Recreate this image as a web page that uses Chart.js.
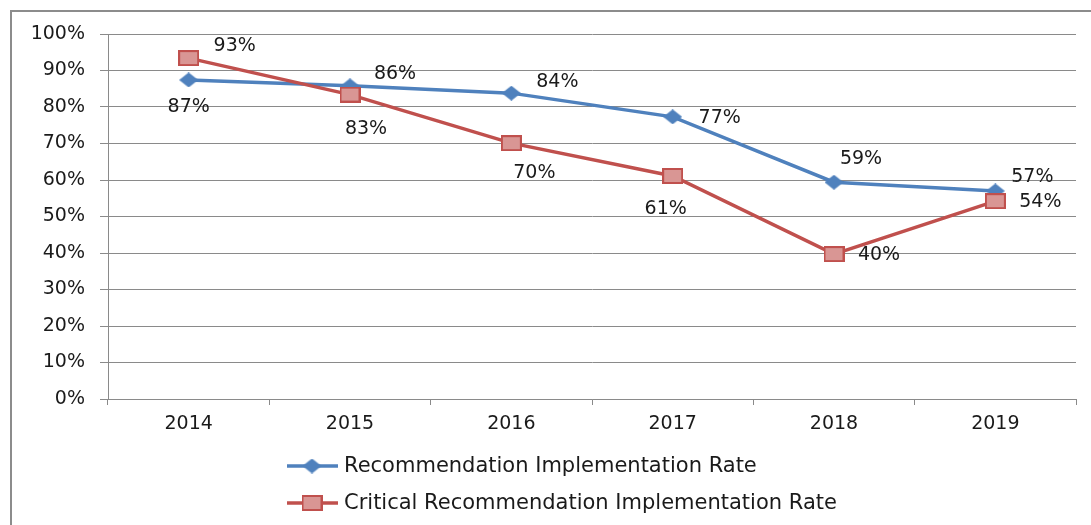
<!DOCTYPE html>
<html><head><meta charset="utf-8">
<script src="https://cdn.jsdelivr.net/npm/chart.js@4"></script>
<style>html,body{margin:0;padding:0;background:#fff;}#wrap{width:1091px;height:525px;position:relative}</style>
</head><body><div id="wrap"><canvas id="c" width="1091" height="525"></canvas></div>
<script>
const categories = ['2014', '2015', '2016', '2017', '2018', '2019'];
const recommendationRate = [87.4, 85.8, 83.8, 77.3, 59.4, 57.0];
const criticalRate = [93.4, 83.4, 70.1, 61.1, 39.7, 54.2];
const seriesNames = ['Recommendation Implementation Rate', 'Critical Recommendation Implementation Rate'];

const BLUE = '#4F81BD', RED = '#C0504D', PINK = '#D99694', GRID = '#8a8a8a', TEXT = '#1a1a1a';
const FONT = 'DejaVu Sans';

function diamondImg() {
  const c = document.createElement('canvas'); c.width = 19; c.height = 15;
  const x = c.getContext('2d'); x.fillStyle = BLUE;
  x.beginPath(); x.moveTo(9.5, 0); x.lineTo(19, 7.5); x.lineTo(9.5, 15); x.lineTo(0, 7.5); x.closePath(); x.fill();
  return c;
}
function squareImg() {
  const c = document.createElement('canvas'); c.width = 21; c.height = 16;
  const x = c.getContext('2d'); x.fillStyle = PINK; x.fillRect(1, 1, 19, 14);
  x.strokeStyle = RED; x.lineWidth = 2; x.strokeRect(1, 1, 19, 14);
  return c;
}
const diamond = diamondImg(), square = squareImg();

// label offsets (style): dx, dy of label centre from point
const labelOffsets = [
  [[0, 27], [45, -12], [46, -11], [47, 1], [27, -23], [37, -14]],
  [[46, -12], [16, 34], [23, 30], [-7, 33], [45, 1], [45, 1]]
];

const frame = {
  id: 'frame',
  beforeDraw(chart) {
    const ctx = chart.ctx; ctx.save();
    ctx.strokeStyle = '#8c8c8c'; ctx.lineWidth = 2;
    ctx.strokeRect(11, 11, 1200, 700);
    ctx.restore();
  }
};

const labels = {
  id: 'valueLabels',
  afterDatasetsDraw(chart) {
    const ctx = chart.ctx; ctx.save();
    ctx.font = '19px "' + FONT + '"'; ctx.fillStyle = TEXT;
    ctx.textAlign = 'center'; ctx.textBaseline = 'middle';
    chart.data.datasets.forEach((ds, di) => {
      const meta = chart.getDatasetMeta(di);
      meta.data.forEach((pt, i) => {
        const o = labelOffsets[di][i];
        ctx.fillText(Math.round(ds.data[i]) + '%', pt.x + o[0], pt.y + o[1]);
      });
    });
    ctx.restore();
  }
};

const legend = {
  id: 'customLegend',
  afterDraw(chart) {
    const ctx = chart.ctx; ctx.save();
    const rows = [466, 503];
    const imgs = [diamond, square];
    const cols = [BLUE, RED];
    ctx.font = '21px "' + FONT + '"'; ctx.fillStyle = TEXT;
    ctx.textAlign = 'left'; ctx.textBaseline = 'middle';
    rows.forEach((y, i) => {
      ctx.strokeStyle = cols[i]; ctx.lineWidth = 3.5;
      ctx.beginPath(); ctx.moveTo(287, y); ctx.lineTo(338, y); ctx.stroke();
      const im = imgs[i];
      ctx.drawImage(im, 312 - im.width / 2, y - im.height / 2);
      ctx.fillText(chart.data.datasets[i].label, 344, y + 1);
    });
    ctx.restore();
  }
};

Chart.defaults.font.family = FONT;
Chart.defaults.font.size = 19;
Chart.defaults.color = TEXT;

new Chart(document.getElementById('c'), {
  type: 'line',
  data: {
    labels: categories,
    datasets: [
      { label: seriesNames[0], data: recommendationRate, borderColor: BLUE, backgroundColor: BLUE,
        borderWidth: 3.5, pointStyle: diamond, pointRadius: 9, tension: 0, order: 1 },
      { label: seriesNames[1], data: criticalRate, borderColor: RED, backgroundColor: PINK,
        borderWidth: 3.5, pointStyle: square, pointRadius: 10, tension: 0, order: 0 }
    ]
  },
  options: {
    responsive: false,
    animation: false,
    events: [],
    layout: { padding: { left: 0, right: 15, top: 34, bottom: 81 } },
    plugins: { legend: { display: false }, tooltip: { enabled: false } },
    scales: {
      x: {
        offset: true,
        grid: { offset: true, drawOnChartArea: false, drawTicks: true, tickLength: 6, color: GRID },
        border: { display: true, color: GRID, width: 1 },
        ticks: { padding: 8, color: TEXT, font: { size: 19 } },
        afterFit(s) { s.height = 45; }
      },
      y: {
        min: 0, max: 100,
        ticks: { stepSize: 10, padding: 15, color: TEXT, font: { size: 19 }, callback: v => v + '%' },
        grid: { color: GRID, tickLength: 8, drawTicks: true },
        border: { display: true, color: GRID, width: 1 },
        afterFit(s) { s.width = 108; }
      }
    }
  },
  plugins: [frame, labels, legend]
});
</script>
</body></html>
